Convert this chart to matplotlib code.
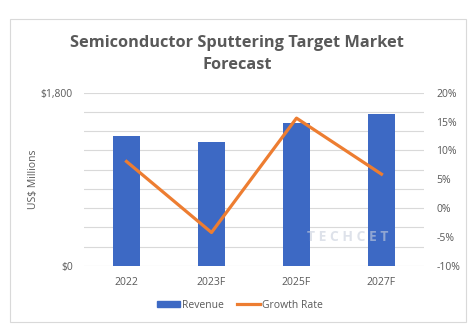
import matplotlib.pyplot as plt
from matplotlib.patches import Rectangle, Patch
from matplotlib.lines import Line2D
from matplotlib.ticker import FuncFormatter

plt.rcParams['font.family'] = ['Open Sans', 'DejaVu Sans']

# data
years = ['2022', '2023F', '2025F', '2027F']
revenue = [1350, 1290, 1490, 1578]          # US$ millions
growth = [0.081, -0.042, 0.156, 0.059]       # growth rate

text_col = '#595959'
grid_col = '#d9d9d9'
bar_col = '#3d69c4'
line_col = '#ed7d31'

fig = plt.figure(figsize=(4.74, 3.36), dpi=100)
fig.patches.append(Rectangle((10 / 474, 1 - 322 / 336), 456 / 474, 303 / 336,
                             transform=fig.transFigure, fill=False,
                             edgecolor='#d9d9d9', linewidth=0.8))

ax = fig.add_axes([0.1772, 0.2083, 0.7173, 0.5158])
x = range(len(years))
ax.bar(x, revenue, width=0.32, color=bar_col, zorder=2)
ax.set_xlim(-0.5, 3.5)
ax.set_ylim(0, 1800)
ax.set_yticks(range(0, 1801, 200))
ax.set_yticklabels(['$0'] + [''] * 8 + ['$1,800'])
ax.grid(axis='y', color=grid_col, linewidth=0.8, zorder=0)
ax.set_xticks(list(x))
ax.set_xticklabels(years)
for s in ax.spines.values():
    s.set_visible(False)
ax.tick_params(length=0, labelsize=7.5, colors=text_col, pad=8)
ax.set_ylabel('US$ Millions', fontsize=7.5, color=text_col, labelpad=1)

ax2 = ax.twinx()
ax2.plot(x, growth, color=line_col, linewidth=2.3, zorder=3)
ax2.set_ylim(-0.10, 0.20)
ax2.set_yticks([-0.10, -0.05, 0, 0.05, 0.10, 0.15, 0.20])
ax2.yaxis.set_major_formatter(FuncFormatter(lambda v, p: '{:.0f}%'.format(v * 100)))
for s in ax2.spines.values():
    s.set_visible(False)
ax2.tick_params(length=0, labelsize=7.5, colors=text_col, pad=9)

# watermark
ax.text(2.6, 0.165 * 1800, 'T E C H C E T', ha='center', va='center', fontsize=10,
        fontweight='bold', color='#c8cfdc', alpha=0.6, zorder=4)

fig.text(0.5, 1 - 54 / 336, 'Semiconductor Sputtering Target Market\nForecast',
         ha='center', va='center', fontsize=11.8, fontweight='bold',
         color=text_col, linespacing=1.5)

handles = [Patch(color=bar_col), Line2D([0], [0], color=line_col, linewidth=2.3)]
fig.legend(handles, ['Revenue', 'Growth Rate'], loc='center',
           bbox_to_anchor=(240 / 474, 1 - 305 / 336), ncol=2, frameon=False,
           fontsize=7.5, labelcolor=text_col, handlelength=2.2, handleheight=0.5,
           columnspacing=1.2, handletextpad=0.2)

fig.savefig('out.png', dpi=100)
